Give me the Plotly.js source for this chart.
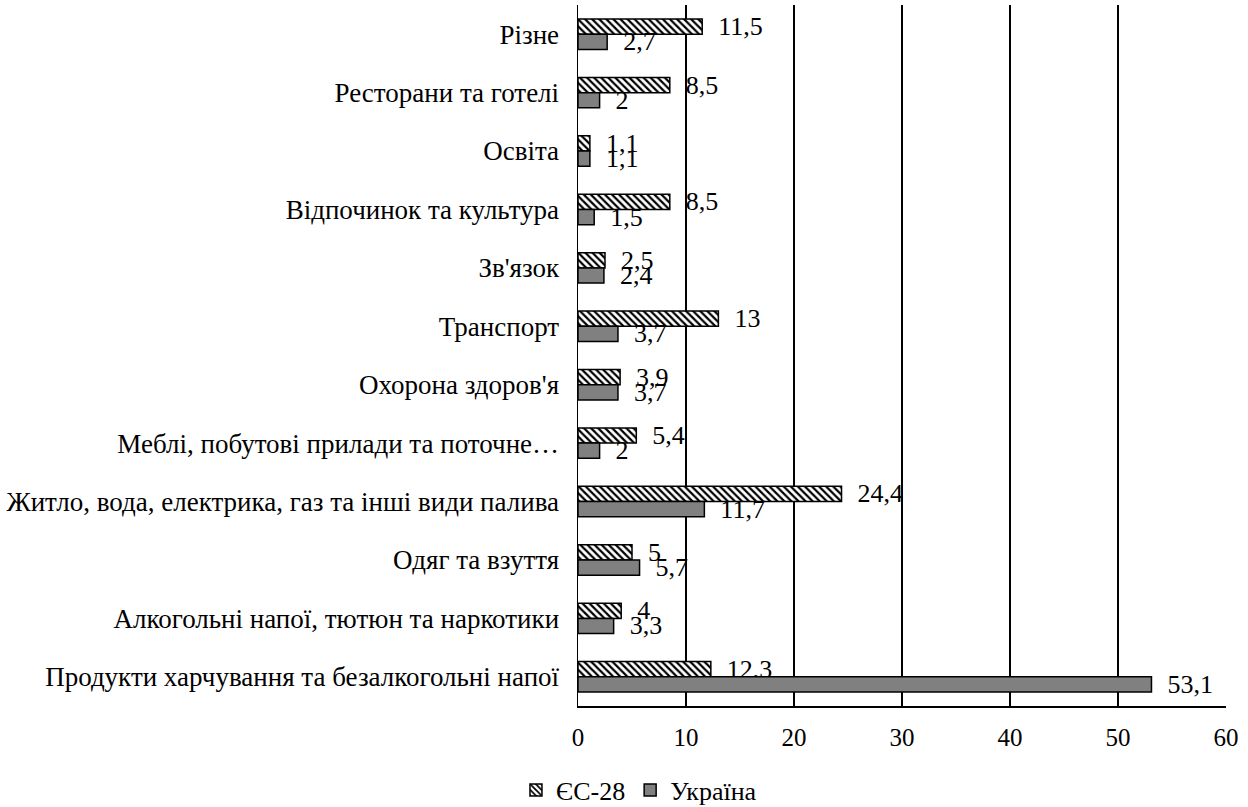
<!DOCTYPE html>
<html>
<head>
<meta charset="utf-8">
<script src="https://cdn.plot.ly/plotly-3.0.1.min.js"></script>
<style>html,body{margin:0;padding:0;background:#fff;}#chart{width:1248px;height:807px;}</style>
</head>
<body>
<div id="chart"></div>
<script>
const categories = [
  "Різне",
  "Ресторани та готелі",
  "Освіта",
  "Відпочинок та культура",
  "Зв'язок",
  "Транспорт",
  "Охорона здоров'я",
  "Меблі, побутові прилади та поточне…",
  "Житло, вода, електрика, газ та інші види палива",
  "Одяг та взуття",
  "Алкогольні напої, тютюн та наркотики",
  "Продукти харчування та безалкогольні напої"
];
const euValues = [11.5, 8.5, 1.1, 8.5, 2.5, 13, 3.9, 5.4, 24.4, 5, 4, 12.3];
const uaValues = [2.7, 2, 1.1, 1.5, 2.4, 3.7, 3.7, 2, 11.7, 5.7, 3.3, 53.1];
const seriesNames = ["ЄС-28", "Україна"];
const xTicks = [0, 10, 20, 30, 40, 50, 60];

const fmt = v => '\u2002' + String(v).replace('.', ',');
const FONT = 'Liberation Serif';

const traces = [
  {
    type: 'bar', orientation: 'h', name: seriesNames[0],
    y: categories, x: euValues,
    text: euValues.map(fmt), textposition: 'outside', cliponaxis: false,
    constraintext: 'none',
    textfont: {family: FONT, size: 26, color: '#000'},
    marker: {color: '#ffffff', line: {color: '#000', width: 1.5},
      pattern: {shape: '\\', fgcolor: '#000', bgcolor: '#fff', size: 5, solidity: 0.45}},
    hoverinfo: 'x+y'
  },
  {
    type: 'bar', orientation: 'h', name: seriesNames[1],
    y: categories, x: uaValues,
    text: uaValues.map(fmt), textposition: 'outside', cliponaxis: false,
    constraintext: 'none',
    textfont: {family: FONT, size: 26, color: '#000'},
    marker: {color: '#808080', line: {color: '#000', width: 1.5}},
    hoverinfo: 'x+y'
  }
];

const layout = {
  width: 1248, height: 807,
  margin: {l: 578, r: 22, t: 5, b: 101},
  paper_bgcolor: '#fff', plot_bgcolor: '#fff',
  font: {family: FONT, size: 26, color: '#000'},
  separators: ', ',
  barmode: 'group', bargap: 0.48, bargroupgap: 0,
  xaxis: {
    range: [0, 60], tickvals: xTicks, ticktext: xTicks.map(String),
    showgrid: true, gridcolor: '#000', gridwidth: 1.5,
    showline: true, linecolor: '#000', linewidth: 1.5,
    zeroline: false, ticks: '', ticklabelstandoff: 8,
    tickfont: {family: FONT, size: 25, color: '#000'}, fixedrange: true
  },
  yaxis: {
    type: 'category', autorange: 'reversed',
    showline: true, linecolor: '#000', linewidth: 1.5,
    showgrid: false, zeroline: false, ticks: '', ticklabelstandoff: 12,
    tickfont: {family: FONT, size: 27, color: '#000'}, fixedrange: true
  },
  showlegend: true,
  legend: {
    orientation: 'h', xref: 'container', yref: 'container',
    x: 0.512, xanchor: 'center', y: 0.021, yanchor: 'middle',
    font: {family: FONT, size: 26, color: '#000'},
    itemwidth: 30, tracegroupgap: 0
  }
};

Plotly.newPlot('chart', traces, layout, {displayModeBar: false, staticPlot: true});
</script>
</body>
</html>
